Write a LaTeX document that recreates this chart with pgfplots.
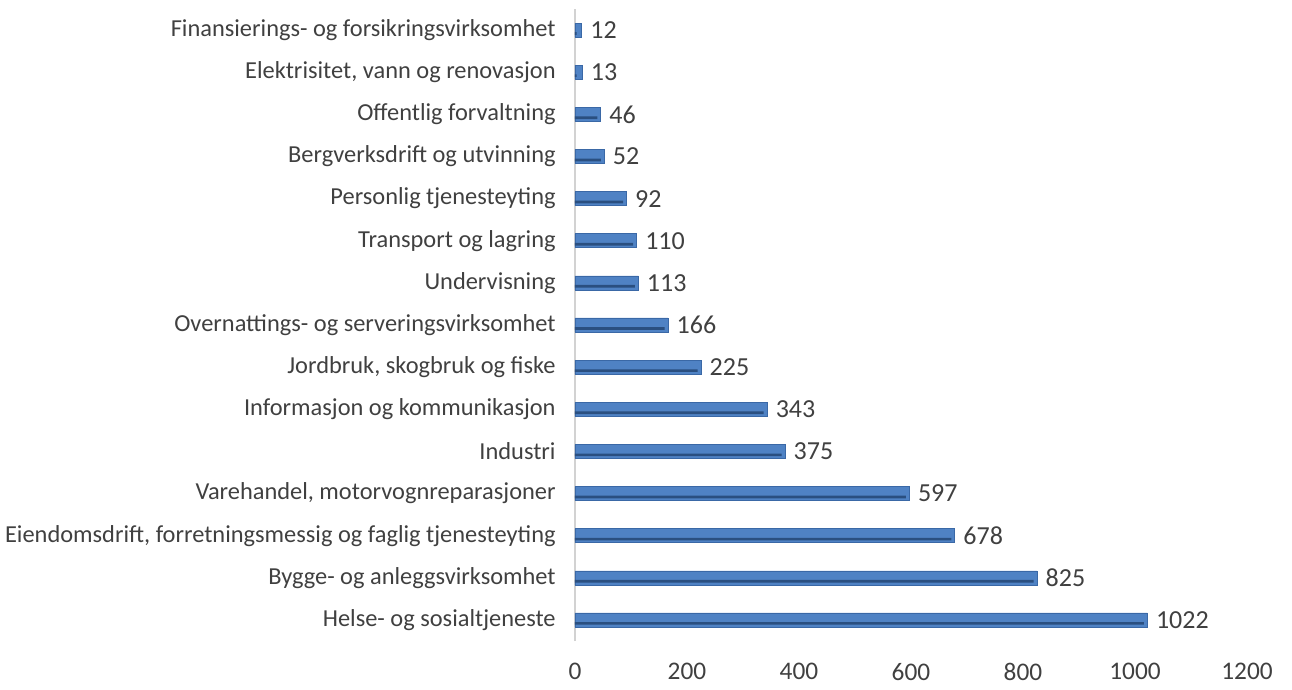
\documentclass[border=0pt]{standalone}
\usepackage{pgfplots}
\pgfplotsset{compat=1.18}
\usepackage{fontspec}
\setmainfont{Carlito}
\definecolor{txt}{HTML}{404040}
\definecolor{barFill}{HTML}{4F82C4}
\definecolor{barDark}{HTML}{2A4F80}
\definecolor{barEdge}{HTML}{3A68A6}
\begin{document}
\begin{tikzpicture}
\path[use as bounding box] (-431.25pt,-36pt) rectangle (537.75pt,480.75pt);
\begin{axis}[
  scale only axis,
  width=504pt, height=474pt,
  xmin=0, xmax=1200,
  ymin=-0.5, ymax=14.5,
  xtick={0,200,...,1200},
  ytick={0,...,14},
  yticklabels={Helse- og sosialtjeneste,
    Bygge- og anleggsvirksomhet,
    {Eiendomsdrift, forretningsmessig og faglig tjenesteyting},
    {Varehandel, motorvognreparasjoner},
    Industri,
    Informasjon og kommunikasjon,
    {Jordbruk, skogbruk og fiske},
    Overnattings- og serveringsvirksomhet,
    Undervisning,
    Transport og lagring,
    Personlig tjenesteyting,
    Bergverksdrift og utvinning,
    Offentlig forvaltning,
    {Elektrisitet, vann og renovasjon},
    Finansierings- og forsikringsvirksomhet},
  axis lines=left,
  x axis line style={draw=none},
  y axis line style={-, draw=gray!35, line width=0.8pt},
  major tick length=0pt,
  tick style={draw=none},
  /pgf/number format/assume math mode=true,
  /pgf/number format/1000 sep={},
  ticklabel style={font=\fontsize{19}{22}\selectfont, text=txt},
  yticklabel style={font=\fontsize{18.3}{21}\selectfont, text=txt, xshift=-11pt},
  xticklabel style={yshift=-13pt},
  clip=false,
]
\addplot[xbar, bar width=10.5pt, draw=barEdge, fill=barFill,
  nodes near coords,
  every node near coord/.append style={font=\fontsize{19.5}{22}\selectfont, text=txt, anchor=west, xshift=3pt},
  point meta=x,
  nodes near coords style={/pgf/number format/assume math mode=true, /pgf/number format/1000 sep={}}]
coordinates {
(1022,0) (825,1) (678,2) (597,3) (375,4) (343,5) (225,6) (166,7) (113,8) (110,9) (92,10) (52,11) (46,12) (13,13) (12,14)
};
\addplot[xbar, bar width=2pt, bar shift=-2.6pt, draw=none, fill=barDark, forget plot]
coordinates {
(1016,0) (819,1) (672,2) (591,3) (369,4) (337,5) (219,6) (160,7) (107,8) (104,9) (86,10) (46,11) (40,12) (3,13) (3,14)
};
\end{axis}
\end{tikzpicture}
\end{document}
